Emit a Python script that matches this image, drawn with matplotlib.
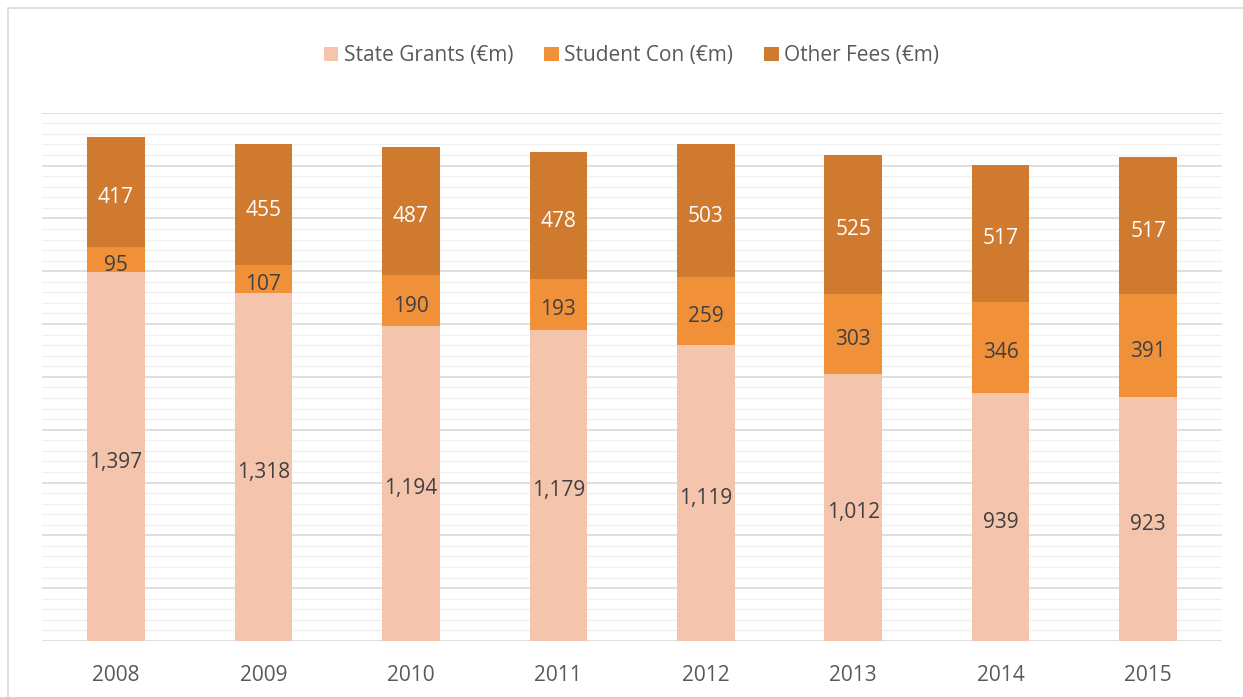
import matplotlib
matplotlib.use("Agg")
import matplotlib.pyplot as plt
from matplotlib.patches import Rectangle
import numpy as np

# ---------------------------------------------------
# DATA
# ---------------------------------------------------

years = ["2008", "2009", "2010", "2011", "2012", "2013", "2014", "2015"]
state_grants = [1397, 1318, 1194, 1179, 1119, 1012, 939, 923]
student_con = [95, 107, 190, 193, 259, 303, 346, 391]
other_fees = [417, 455, 487, 478, 503, 525, 517, 517]

series_names = ["State Grants (€m)", "Student Con (€m)", "Other Fees (€m)"]
colors = ["#F4C4AD", "#F0913A", "#D07A2F"]
label_colors = ["#404040", "#404040", "#FFFFFF"]

plt.rcParams["font.family"] = ["Open Sans", "DejaVu Sans"]

fig = plt.figure(figsize=(12.43, 6.97), dpi=100)
ax = fig.add_axes([0.034, 0.0803, 0.949, 0.758])

x = np.arange(len(years))
bottom = np.zeros(len(years))

for vals, name, col, lcol in zip([state_grants, student_con, other_fees],
                                 series_names, colors, label_colors):
    bars = ax.bar(x, vals, width=0.39, bottom=bottom, color=col,
                  label=name, zorder=3)
    labels = [f"{v:,}" for v in vals]
    ax.bar_label(bars, labels=labels, label_type="center",
                 color=lcol, fontsize=15, padding=-4)
    bottom += np.array(vals)

# ---------------------------------------------------
# AXES STYLE
# ---------------------------------------------------

ax.set_xlim(-0.5, len(years) - 0.5)
ax.set_ylim(0, 2000)
ax.set_yticks(np.arange(0, 2001, 200))
ax.set_yticks(np.arange(0, 2001, 40), minor=True)
ax.grid(axis="y", which="major", color="#D9D9D9", linewidth=1.2, zorder=0)
ax.grid(axis="y", which="minor", color="#F0F0F0", linewidth=1.0, zorder=0)
ax.tick_params(axis="y", which="both", left=False, labelleft=False)
ax.tick_params(axis="x", length=0, labelsize=15, labelcolor="#595959", pad=17)
ax.set_xticks(x)
ax.set_xticklabels(years)
for s in ax.spines.values():
    s.set_visible(False)

handles, lbls = ax.get_legend_handles_labels()
fig.legend(handles, lbls, loc="center", bbox_to_anchor=(0.508, 0.92),
           ncol=3, frameon=False, fontsize=15, handlelength=0.7,
           handleheight=0.7, handletextpad=0.25, columnspacing=1.5,
           labelcolor="#595959")

# outer chart border
fig.patches.append(Rectangle((0.0065, -0.01), 1.0, 0.999, transform=fig.transFigure,
                             fill=False, edgecolor="#D9D9D9", linewidth=1.2))

fig.savefig("out.png", dpi=100)
